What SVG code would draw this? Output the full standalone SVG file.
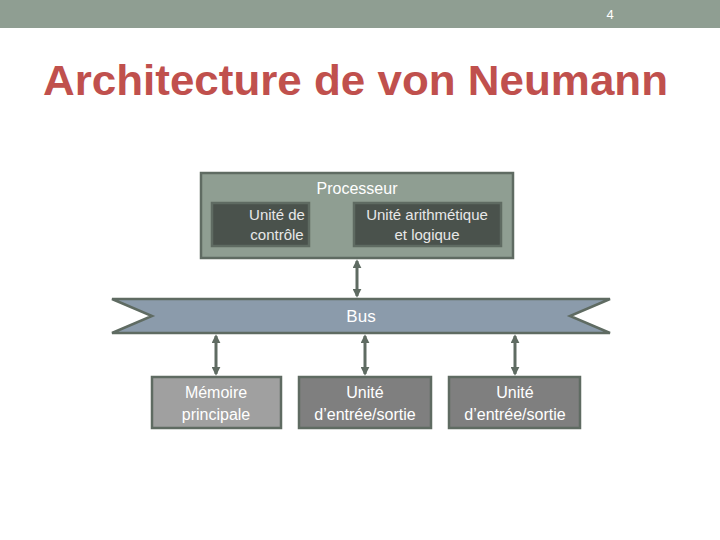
<svg xmlns="http://www.w3.org/2000/svg" width="720" height="540" viewBox="0 0 720 540">
<defs>
<marker id="ah" viewBox="0 0 10 10" refX="8" refY="5" markerWidth="3" markerHeight="3" orient="auto-start-reverse"><path d="M0,0 L10,5 L0,10 z" fill="#5f6b62"/></marker>
<style>
text{font-family:"Liberation Sans",Arial,sans-serif;fill:#fff;text-anchor:middle}
.c{stroke:#5f6b62;stroke-width:3;marker-start:url(#ah);marker-end:url(#ah)}
.b{stroke:#5f6b62;stroke-width:2.5}
</style>
</defs>
<rect x="0" y="0" width="720" height="540" fill="#fff"/>
<rect x="0" y="0" width="720" height="28" fill="#8f9e92"/>
<text x="610" y="19" font-size="13">4</text>
<text x="355.5" y="95" font-size="42" font-weight="bold" textLength="625" lengthAdjust="spacingAndGlyphs" style="fill:#c0504d">Architecture de von Neumann</text>
<g id="processeur"><rect class="b" x="201" y="173" width="312" height="85" fill="#8f9e92"/><text x="357" y="194" font-size="16">Processeur</text></g>
<g id="controle"><rect class="b" x="212" y="203" width="97" height="43" fill="#4a524c" stroke="#6f7a72"/><text x="277" y="220" font-size="15" style="fill:#e8e8e8">Unité de</text><text x="277" y="240" font-size="15" style="fill:#e8e8e8">contrôle</text></g>
<g id="ual"><rect class="b" x="354" y="203" width="147" height="43" fill="#4a524c" stroke="#6f7a72"/><text x="427" y="220" font-size="15" style="fill:#e8e8e8">Unité arithmétique</text><text x="427" y="240" font-size="15" style="fill:#e8e8e8">et logique</text></g>
<g id="bus"><path class="b" d="M112,299 L610,299 L570,316 L610,333 L112,333 L152,316 z" fill="#8b9bab"/><text x="361" y="322" font-size="17">Bus</text></g>
<g id="memoire"><rect class="b" x="152" y="377" width="129" height="51" fill="#a0a0a0" stroke="#6f7a72"/><text x="216" y="398" font-size="16">Mémoire</text><text x="216" y="420" font-size="16">principale</text></g>
<g id="es1"><rect class="b" x="299" y="377" width="132" height="51" fill="#7f7f7f" stroke="#6f7a72"/><text x="365" y="398" font-size="16">Unité</text><text x="365" y="420" font-size="16">d’entrée/sortie</text></g>
<g id="es2"><rect class="b" x="449" y="377" width="131" height="51" fill="#7f7f7f" stroke="#6f7a72"/><text x="515" y="398" font-size="16">Unité</text><text x="515" y="420" font-size="16">d’entrée/sortie</text></g>
<g id="connecteurs">
<line class="c" x1="357" y1="261" x2="357" y2="296"/>
<line class="c" x1="216" y1="336" x2="216" y2="374"/>
<line class="c" x1="365" y1="336" x2="365" y2="374"/>
<line class="c" x1="515" y1="336" x2="515" y2="374"/>
</g>
</svg>
